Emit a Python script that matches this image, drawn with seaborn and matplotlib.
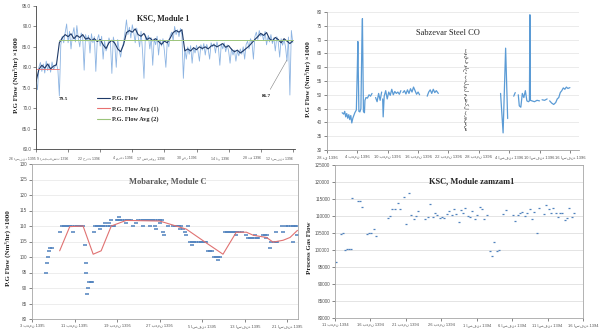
import numpy as np
import pandas as pd
import matplotlib
matplotlib.use("Agg")
import matplotlib.pyplot as plt
from matplotlib.lines import Line2D
import seaborn as sns

sns.set_theme(style="white")
plt.rcParams['font.family'] = ['Liberation Serif', 'DejaVu Sans']
TICKFONT = ['Liberation Sans', 'DejaVu Sans']

# ---------------- Panel 1: KSC, Module 1 ----------------
ksc1_tick_days = [0, 44, 88, 132, 176, 220, 264, 308, 352]
ksc1_tick_labels = ["26 اسفند 1395", "9 اردیبهشت 1396", "22 خرداد 1396", "4 مرداد 1396",
                    "17 شهریور 1396", "30 مهر 1396", "14 آذر 1396", "28 دی 1396", "12 اسفند 1396"]
ksc1_raw_days = list(range(0, 353, 2))
ksc1_raw = [77.0, 74.5, 80.0, 81.2, 79.0, 80.8, 78.6, 81.5, 79.2, 80.9,
            78.8, 81.3, 79.5, 80.2, 81.0, 79.4, 73.0, 85.5, 87.6, 86.0,
            88.5, 90.6, 86.0, 88.8, 84.5, 87.9, 89.7, 86.2, 90.2, 87.0,
            85.0, 88.4, 87.3, 79.3, 88.0, 86.4, 87.8, 83.5, 88.2, 86.0,
            87.5, 79.0, 86.8, 88.0, 85.2, 87.6, 82.0, 86.4, 84.0, 85.0,
            87.2, 86.0, 78.5, 87.4, 85.6, 80.0, 86.8, 84.2, 82.5, 84.8,
            86.0, 88.6, 91.6, 88.0, 89.8, 87.2, 90.4, 88.5, 86.0, 89.6,
            87.5, 85.0, 88.8, 84.0, 77.3, 88.0, 86.5, 87.8, 84.5, 87.2,
            80.5, 87.0, 85.5, 87.6, 83.0, 86.8, 85.2, 87.0, 84.0, 80.0,
            86.5, 85.0, 87.8, 88.6, 86.5, 90.0, 88.0, 89.2, 87.5, 89.5,
            88.0, 77.3, 84.5, 82.0, 85.0, 83.2, 85.3, 81.0, 84.8, 83.5,
            85.4, 84.0, 81.5, 85.5, 84.2, 85.8, 83.0, 85.6, 84.4, 82.0,
            86.0, 85.0, 85.8, 83.5, 86.2, 84.8, 80.5, 85.8, 84.5, 86.0,
            83.8, 85.5, 84.0, 81.0, 84.6, 83.0, 84.2, 81.5, 84.0, 82.8,
            84.5, 83.2, 85.0, 82.0, 85.6, 86.4, 84.5, 87.0, 86.0, 82.0,
            87.5, 88.6, 86.8, 89.0, 87.6, 88.2, 86.5, 88.8, 85.5, 87.5,
            86.2, 88.0, 85.8, 87.2, 84.0, 87.5, 86.2, 82.5, 87.0, 85.4,
            86.8, 85.0, 81.5, 87.4, 73.2, 89.0, 86.0]
ksc1_flow_days = list(range(0, 353, 4))
ksc1_flow = [76.5, 79.5, 80.5, 79.8, 80.8, 79.6, 80.3, 80.6, 86.0, 87.2,
             88.0, 87.5, 88.2, 87.0, 87.8, 87.3, 88.0, 86.9, 87.2, 86.5,
             87.0, 86.3, 86.8, 85.5, 84.6, 86.0, 86.6, 85.9, 84.5, 83.8,
             85.5, 88.5, 89.0, 88.6, 89.4, 88.0, 87.6, 88.3, 86.8, 87.2,
             86.5, 87.0, 86.3, 85.6, 86.4, 86.0, 87.2, 88.5, 89.0, 88.6,
             89.2, 84.0, 84.5, 84.0, 84.8, 84.3, 85.0, 84.6, 85.0, 84.5,
             85.2, 85.5, 85.0, 85.4, 85.8, 84.9, 85.3, 84.4, 83.8, 84.2,
             83.5, 84.0, 84.6, 85.2, 86.0, 86.8, 87.5, 88.3, 87.8, 88.5,
             87.0, 86.5, 87.3, 86.8, 86.0, 87.0, 86.4, 85.8, 86.5]
ksc1_avg1_days = [0, 31]
ksc1_avg1 = [79.5, 79.5]
ksc1_avg2_days = [31, 352]
ksc1_avg2 = [86.7, 86.7]

# ---------------- Panel 2: Sabzevar Steel CO ----------------
sab_tick_days = [0, 6, 12, 18, 24, 30, 36, 42, 48]
sab_tick_labels = ["28 دی 1396", "4 بهمن 1396", "10 بهمن 1396", "16 بهمن 1396", "22 بهمن 1396",
                   "28 بهمن 1396", "4 اسفند 1396", "10 اسفند 1396", "16 اسفند 1396"]
nan = np.nan
sab_days = [3.0, 3.3, 3.5, 3.7, 3.9, 4.1, 4.3, 4.5, 4.7, 4.9, 5.1, 5.3, 5.5, 5.8, 6.0, 6.1, 6.3,
            6.5, 6.7, 6.9, 7.0, 7.2, 7.4, 7.5, 7.7, 8.0, 8.3, 8.6, 8.9, nan,
            9.6, 9.9, 10.2, 10.5, 10.8, nan,
            11.0, 11.1, 11.3, 11.6, 11.9, 12.2, 12.5, 12.8, 13.1, 13.4, 13.7, 14.0, 14.3, 14.6, nan,
            15.0, 15.3, 15.6, 15.9, 16.2, 16.5, 16.8, 17.1, 17.4, 17.7, 18.0, 18.3, nan,
            19.8, 20.1, 20.4, 20.7, 21.0, 21.3, 21.6, 22.0, nan,
            34.3, 34.8, 35.3, 35.7, nan,
            36.9, 37.2, nan,
            37.8, 38.0, 38.3, 38.6, 38.9, 39.2, 39.5, 39.8, 40.0, 40.1, 40.2, 40.5, 41.0, 41.5, 42.0, nan,
            42.5, 43.0, 43.5, nan,
            44.0, 44.4, 44.8, 45.2, 45.5, 45.8, 46.1, 46.4, 46.7, 47.0, 47.3, 47.6, 48.0]
sab_flow = [43.5, 43.0, 44.0, 42.0, 43.2, 41.5, 42.8, 41.0, 42.5, 39.8, 41.5, 42.5, 43.5, 44.5, 60.0, 69.3, 44.0,
            43.8, 45.0, 70.0, 77.6, 44.0, 43.5, 48.0, 49.0, 48.8, 50.0, 49.5, 50.5, nan,
            49.0, 47.5, 50.5, 48.0, 51.0, nan,
            48.5, 42.0, 49.5, 51.5, 48.5, 51.0, 49.8, 52.0, 50.0, 51.2, 50.5, 51.0, 50.2, 51.5, nan,
            50.8, 51.5, 50.3, 51.8, 50.5, 52.2, 51.0, 52.8, 51.5, 50.2, 51.0, 50.0, nan,
            49.5, 51.0, 51.8, 50.5, 52.0, 50.8, 51.5, 50.5, nan,
            50.5, 36.2, 66.9, 41.4, nan,
            49.5, 50.8, nan,
            50.0, 46.0, 45.5, 50.5, 49.0, 51.5, 47.8, 47.5, 47.8, 79.0, 48.0, 47.8, 47.5, 48.0, 47.8, nan,
            48.2, 48.0, 48.5, nan,
            47.8, 47.0, 46.5, 47.2, 48.5, 49.0, 50.8, 51.5, 52.5, 52.0, 52.8, 52.3, 52.6]
sab_note = "توقف واحد بدلیل مشکل پروسس"

# ---------------- Panel 3: Mobarake, Module C ----------------
mob_tick_days = [0, 8, 16, 24, 32, 40, 48]
mob_tick_labels = ["3 بهمن 1395", "11 بهمن 1395", "19 بهمن 1395", "27 بهمن 1395",
                   "5 اسفند 1395", "13 اسفند 1395", "21 اسفند 1395"]
mob_days = [2.7, 2.8, 3.0, 3.2, 3.4, 3.8, 5.2,
            5.6, 6.0, 6.4, 6.8, 7.2, 7.6, 8.0, 8.4, 8.8, 9.2, 9.6,
            7.7, 9.9, 10.1, 10.2, 10.4, 10.5, 10.8, 11.0, 11.3, 11.6,
            11.8, 12.2, 12.6, 13.0, 13.4, 13.8, 14.2, 14.6,
            12.8, 13.7, 14.5, 14.9, 15.2, 15.5, 15.9, 16.2, 16.4,
            16.6, 17.0, 17.4, 17.8, 18.2, 18.6, 17.7, 19.0, 19.6,
            20.0, 20.4, 20.8, 21.2, 21.6, 22.0, 22.4, 22.8, 23.2, 23.6, 24.0, 24.4,
            20.9, 22.2, 23.1, 23.4, 24.0, 24.6, 24.9, 25.5,
            26.5, 26.9, 27.3, 27.7, 28.0, 27.8, 28.4, 28.7, 29.0, 29.3,
            29.7, 30.1, 30.5, 30.9, 31.3, 31.7, 32.1, 32.5, 32.8, 30.0,
            33.1, 33.5, 33.9, 34.2, 34.6, 35.0, 35.3, 35.0,
            36.2, 36.6, 37.0, 37.4, 37.8, 38.2, 38.6, 39.0, 39.4, 38.4,
            40.3, 40.6, 41.0, 41.4, 41.8, 42.2, 42.5, 41.9,
            43.4, 43.8, 44.2, 44.0, 44.7, 45.0, 45.4, 45.8, 46.0, 45.9,
            46.9, 47.2, 47.8, 48.2, 48.6, 49.0, 49.4, 49.7, 49.1, 49.9]
mob_flow = [95, 98, 100, 102, 103, 103, 108,
            110, 110, 110, 110, 110, 110, 110, 110, 110, 110, 110,
            108, 104, 95, 98, 88, 90, 92, 92, 92, 108,
            110, 110, 110, 110, 110, 110, 110, 110,
            109, 111, 111, 112, 110, 110, 112, 112, 113,
            112, 112, 112, 112, 112, 112, 111, 110, 111,
            112, 112, 112, 112, 112, 112, 112, 112, 112, 112, 112, 112,
            110, 110, 110, 109, 111, 108, 107, 110,
            110, 110, 110, 110, 110, 109, 109, 108, 107, 110,
            105, 105, 105, 105, 105, 105, 105, 105, 105, 104,
            102, 102, 102, 100, 100, 100, 100, 99,
            108, 108, 108, 108, 108, 108, 108, 108, 108, 107,
            107, 106, 106, 106, 106, 106, 106, 107,
            107, 107, 107, 106, 103, 105, 105, 105, 105, 108,
            110, 108, 110, 110, 110, 110, 110, 110, 105, 107]
mob_avg_days = [5.2, 7.1, 9.6, 11.5, 13.0, 14.9, 17.7, 24.0, 29.0, 32.8,
                35.9, 38.4, 40.3, 41.6, 44.1, 45.3, 47.2, 48.5, 49.9]
mob_avg = [102, 109.8, 110, 100.9, 102, 110, 111.8, 111.6, 109, 104.5,
           100.9, 108, 108, 107, 106.3, 104.8, 105.4, 106.3, 108.6]

# ---------------- Panel 4: KSC, Module zamzam1 ----------------
zam_tick_days = [0, 5, 10, 15, 20, 25, 30, 35]
zam_tick_labels = ["11 بهمن 1394", "16 بهمن 1394", "21 بهمن 1394", "26 بهمن 1394",
                   "1 اسفند 1394", "6 اسفند 1394", "11 اسفند 1394", "16 اسفند 1394"]
zam_days = [0.1, 0.84, 1.12, 1.4, 1.73, 2.0, 2.24, 2.43, 3.18, 3.5,
            3.83, 4.49, 4.86, 5.14, 5.47, 5.79, 7.48, 7.76, 8.08, 8.46,
            8.88, 9.11, 9.72, 10.09, 10.42, 10.75, 11.12, 11.45, 11.78, 12.76,
            13.08, 13.46, 13.79, 14.11, 14.44, 14.77, 15.09, 15.42, 15.75, 16.12,
            16.45, 16.78, 17.1, 17.43, 17.76, 18.08, 18.41, 18.74, 19.07, 19.39,
            19.72, 20.09, 20.42, 20.75, 21.07, 21.4, 21.82, 22.15, 22.48, 22.8,
            23.18, 23.74, 24.11, 25.14, 25.47, 25.79, 26.12, 26.45, 26.78, 27.1,
            27.48, 27.8, 28.13, 28.46, 28.79, 29.44, 29.81, 30.14, 30.47, 30.79,
            31.12, 31.45, 31.78, 32.1, 32.43, 32.76, 33.08, 33.41, 33.74]
zam_flow = [96400, 104650, 104940, 100050, 100150, 100340, 100440, 115410, 114530, 114430,
            112770, 104740, 105140, 105140, 106210, 104260, 109340, 110030, 111990, 112080,
            113940, 112080, 115510, 107580, 116680, 110320, 109150, 110130, 111600, 109150,
            109830, 113450, 109640, 110810, 110320, 109340, 109740, 109540, 110620, 111500,
            110320, 111990, 110520, 108370, 111790, 110810, 112280, 110130, 109640, 111600,
            109150, 110320, 112570, 112180, 109150, 110320, 99760, 98090, 102490, 99760,
            99950, 110520, 111790, 110320, 108560, 110320, 110810, 111300, 110130, 111010,
            111990, 109150, 111300, 105140, 112470, 110620, 113260, 112080, 110810, 112470,
            111010, 109830, 111010, 111010, 108860, 109340, 112280, 109830, 111010]

# ---------------- Figure ----------------
W, H = 600, 335
fig = plt.figure(figsize=(W / 100, H / 100), dpi=100)
fig.patch.set_facecolor("white")


def rect(l, r, t, b):
    return [l / W, 1 - b / H, (r - l) / W, (b - t) / H]


ax1 = fig.add_axes(rect(36, 295, 6, 149))
ax2 = fig.add_axes(rect(327, 579, 12, 150))
ax3 = fig.add_axes(rect(32, 298, 164, 319))
ax4 = fig.add_axes(rect(335, 583, 165, 318))

XFS = 2.9
YFS = 3.3


def style_ticks(ax, xt, xl, ha="center", xpad=1.5, xfs=XFS):
    ax.set_xticks(xt)
    ax.set_xticklabels(xl, fontsize=xfs, family=TICKFONT, ha=ha, color="#333333")
    for lab in ax.get_yticklabels():
        lab.set_fontsize(YFS)
        lab.set_family(TICKFONT)
        lab.set_color("#333333")
    ax.tick_params(axis="both", length=2, width=0.5, pad=1.5, colors="#555555",
                   bottom=True, left=True)
    ax.tick_params(axis="x", pad=xpad)


def segments(days, vals):
    d = pd.DataFrame({"day": days, "flow": vals})
    d["seg"] = d["flow"].isna().cumsum()
    return d.dropna()

# Panel 1
raw_df = pd.DataFrame({"day": ksc1_raw_days, "flow": ksc1_raw})
flow_df = pd.DataFrame({"day": ksc1_flow_days, "flow": ksc1_flow})
sns.lineplot(data=raw_df, x="day", y="flow", ax=ax1, color="#8db4e2", lw=0.6, estimator=None)
sns.lineplot(data=flow_df, x="day", y="flow", ax=ax1, color="#1f3a68", lw=0.8, estimator=None)
sns.lineplot(x=ksc1_avg1_days, y=ksc1_avg1, ax=ax1, color="#e87070", lw=0.6, estimator=None)
sns.lineplot(x=ksc1_avg2_days, y=ksc1_avg2, ax=ax1, color="#9bc47a", lw=0.7, estimator=None)
ax1.set_xlim(0, 355)
ax1.set_ylim(60, 95)
ax1.set_yticks(np.arange(60, 95.1, 5))
ax1.set_yticklabels([f"{v:.1f}" for v in np.arange(60, 95.1, 5)])
style_ticks(ax1, ksc1_tick_days, ksc1_tick_labels, ha="right", xpad=3.0, xfs=2.5)
for s in ["top", "right"]:
    ax1.spines[s].set_visible(False)
for s in ["left", "bottom"]:
    ax1.spines[s].set_color("#404040")
    ax1.spines[s].set_linewidth(0.6)
ax1.set_xlabel("")
ax1.set_ylabel("P.G Flow (Nm³/hr) ×1000", fontsize=5, fontweight="bold")
ax1.yaxis.set_label_coords(-0.066, 0.52)
ax1.set_title("KSC, Module 1", fontsize=5.8, fontweight="bold", y=0.9, pad=0, x=0.49)
handles = [Line2D([], [], color="#1f3a68", lw=0.8),
           Line2D([], [], color="#e87070", lw=0.8),
           Line2D([], [], color="#9bc47a", lw=0.8)]
ax1.legend(handles, ["P.G. Flow", "P.G. Flow Avg (1)", "P.G. Flow Avg (2)"],
           loc="upper left", bbox_to_anchor=(0.235, 0.37), frameon=False,
           prop={"family": "Liberation Serif", "weight": "bold", "size": 4.5},
           handlelength=2.1, handletextpad=0.4, labelspacing=0.75, borderpad=0, borderaxespad=0)
ax1.text(37, 72.2, "79.5", fontsize=3.8, fontweight="bold", ha="center", va="center")
ax1.annotate("86.7", xy=(344, 81.8), xytext=(316, 73), fontsize=3.8, fontweight="bold",
             ha="center", va="center",
             arrowprops=dict(arrowstyle="-", color="#808080", lw=0.4, shrinkA=1, shrinkB=0))

# Panel 2
sab_df = segments(sab_days, sab_flow)
sns.lineplot(data=sab_df, x="day", y="flow", units="seg", estimator=None, ax=ax2,
             color="#5b9bd5", lw=0.9, sort=False)
ax2.set_xlim(0, 49.8)
ax2.set_ylim(30, 80)
ax2.set_yticks(np.arange(30, 81, 5))
ax2.grid(axis="y", color="#e3e3e3", lw=0.5)
style_ticks(ax2, sab_tick_days, sab_tick_labels)
for s in ["top", "right"]:
    ax2.spines[s].set_visible(False)
for s in ["left", "bottom"]:
    ax2.spines[s].set_color("#a0a0a0")
    ax2.spines[s].set_linewidth(0.6)
ax2.set_xlabel("")
ax2.set_ylabel("P.G Flow (Nm³/hr) ×1000", fontsize=5, fontweight="bold")
ax2.yaxis.set_label_coords(-0.063, 0.51)
ax2.text(0.48, 0.85, "Sabzevar Steel CO", transform=ax2.transAxes, fontsize=6,
         ha="center", va="center")
ax2.text(27.5, 52, sab_note, rotation=270, fontsize=3.3, family=["DejaVu Sans"],
         color="#222222", ha="center", va="center")

# Panel 3
mob_df = pd.DataFrame({"day": mob_days, "flow": mob_flow})
sns.scatterplot(data=mob_df, x="day", y="flow", ax=ax3, marker="_", s=9, linewidth=1.1,
                color="#4f81bd")
sns.lineplot(x=mob_avg_days, y=mob_avg, ax=ax3, color="#e07272", lw=0.8, estimator=None)
ax3.set_xlim(0, 50)
ax3.set_ylim(80, 130)
ax3.set_yticks(np.arange(80, 131, 5))
ax3.grid(axis="y", color="#e6e6e6", lw=0.5)
style_ticks(ax3, mob_tick_days, mob_tick_labels)
for s in ax3.spines.values():
    s.set_color("#a6a6a6")
    s.set_linewidth(0.6)
ax3.set_xlabel("")
ax3.set_ylabel("P.G Flow (Nm³/hr) ×1000", fontsize=5, fontweight="bold")
ax3.yaxis.set_label_coords(-0.079, 0.46)
ax3.text(0.51, 0.89, "Mobarake, Module C", transform=ax3.transAxes, fontsize=6,
         fontweight="bold", color="#595959", ha="center", va="center")

# Panel 4
zam_df = pd.DataFrame({"day": zam_days, "flow": zam_flow})
sns.scatterplot(data=zam_df, x="day", y="flow", ax=ax4, marker="_", s=4, linewidth=0.9,
                color="#4f81bd")
ax4.set_xlim(0, 35)
ax4.set_ylim(80000, 125000)
ax4.set_yticks(np.arange(80000, 125001, 5000))
ax4.grid(axis="y", color="#d9d9d9", lw=0.5)
style_ticks(ax4, zam_tick_days, zam_tick_labels)
for s in ax4.spines.values():
    s.set_color("#a6a6a6")
    s.set_linewidth(0.6)
ax4.set_xlabel("")
ax4.set_ylabel("Process Gas Flow", fontsize=5, fontweight="bold")
ax4.yaxis.set_label_coords(-0.092, 0.46)
ax4.text(0.55, 0.895, "KSC, Module zamzam1", transform=ax4.transAxes, fontsize=6,
         fontweight="bold", ha="center", va="center")

fig.savefig("out.png", dpi=100)
